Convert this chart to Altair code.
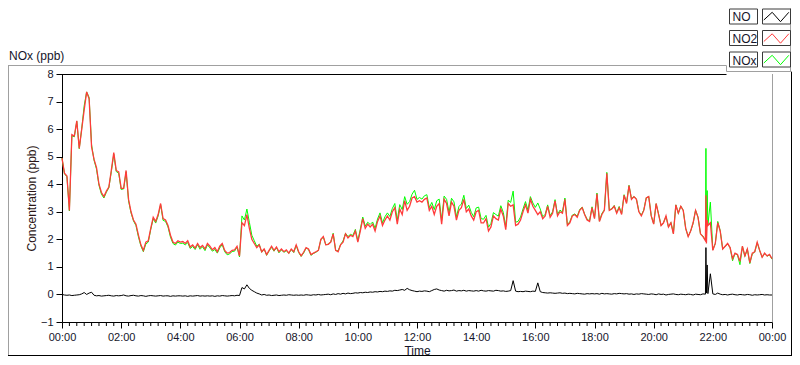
import altair as alt
import pandas as pd

SERIES = ["NO", "NO2", "NOx"]
SERIES_COLORS = ["#000000", "#ff3b3b", "#00ff00"]
X_TICKS = [0, 120, 240, 360, 480, 600, 720, 840, 960, 1080, 1200, 1320, 1440]
MINOR_TICKS = [t for t in range(0, 1441, 15) if t % 120 != 0]
Y_TICKS = [-1, 0, 1, 2, 3, 4, 5, 6, 7, 8]
TIME = list(range(0, 1441, 5))  # minutes since 00:00, 5-minute grid

NO2 = [
    4.95, 4.4, 4.3, 3.05, 5.8, 5.75, 6.3, 5.3, 6.0, 6.7, 7.35, 7.1,
    5.35, 4.9, 4.6, 4.0, 3.7, 3.55, 3.75, 3.9, 4.5, 5.15, 4.5, 4.45,
    3.85, 3.85, 4.5, 3.45, 3.0, 2.7, 2.55, 2.15, 1.8, 1.6, 1.9, 1.95,
    2.4, 2.8, 2.65, 2.9, 3.3, 2.75, 2.7, 2.5, 2.15, 1.9, 1.85, 1.95,
    1.9, 1.92, 1.85, 1.95, 1.72, 1.8, 1.68, 1.85, 1.7, 1.78, 1.65, 1.85,
    1.75, 1.62, 1.7, 1.55, 1.75, 1.85, 1.6, 1.5, 1.52, 1.6, 1.62, 1.75,
    1.4, 2.6, 2.5, 2.9, 2.4, 2.0, 1.85, 1.7, 1.8, 1.55, 1.65, 1.45,
    1.6, 1.75, 1.6, 1.72, 1.55, 1.65, 1.55, 1.62, 1.5, 1.65, 1.55, 1.8,
    1.55, 1.4, 1.53, 1.7, 1.65, 1.45, 1.5, 1.55, 1.6, 2.0, 2.1, 1.8,
    1.82, 1.9, 2.2, 1.6, 1.55, 1.8, 1.9, 2.2, 2.05, 2.15, 2.1, 2.3,
    1.9, 2.3, 2.75, 2.4, 2.55, 2.45, 2.55, 2.3, 2.65, 2.85, 2.5, 2.7,
    2.85, 2.7, 3.0, 3.15, 2.55, 3.1, 2.9, 3.4, 3.05, 3.2, 3.5, 3.55,
    3.35, 3.4, 3.35, 3.45, 3.5, 3.05, 3.2, 2.9, 3.2, 3.3, 2.55, 3.45,
    3.3, 2.85, 3.35, 3.2, 2.7, 3.05, 3.15, 3.45, 3.0, 3.1, 2.85, 2.7,
    3.0, 3.05, 2.6, 2.6, 2.75, 2.3, 2.45, 2.85, 2.75, 2.7, 3.1, 2.85,
    2.35, 3.3, 3.2, 3.25, 2.5, 2.55, 2.7, 3.0, 3.25, 2.95, 3.45, 3.2,
    3.05, 2.9, 3.0, 2.75, 2.85, 3.2, 2.8, 2.95, 3.4, 2.85, 3.0, 2.95,
    3.45, 2.5, 2.6, 2.85, 2.9, 2.8, 3.05, 3.15, 2.9, 2.7, 2.65, 3.15,
    2.75, 3.65, 2.65, 2.9, 3.05, 4.4, 3.05, 3.1, 3.2, 2.95, 3.15, 2.9,
    3.6, 3.3, 3.95, 3.45, 3.55, 3.45, 3.0, 2.85, 3.05, 3.5, 3.55, 2.85,
    2.55, 3.3, 2.9, 2.5, 2.6, 2.85, 2.45, 2.6, 2.2, 3.25, 2.95, 3.2,
    3.05, 2.4, 2.1, 2.3, 2.6, 3.05, 2.8, 2.2, 2.1, 1.95, 2.5, 2.6,
    1.6, 1.85, 2.6, 2.3, 1.65, 1.75, 1.85, 1.7, 1.3, 1.5, 1.45, 1.2,
    1.75, 1.4, 1.65, 1.15, 1.5, 1.55, 1.9, 1.6, 1.35, 1.5, 1.4, 1.45,
    1.3,
]

NO = [
    0.0, -0.02, -0.03, -0.02, -0.04, -0.03, -0.02, -0.01, 0.02, 0.07, 0.0, 0.05,
    0.08, -0.03, -0.05, -0.04, -0.06, -0.05, -0.04, -0.03, -0.05, -0.06, -0.04, -0.05,
    -0.04, -0.02, -0.05, -0.06, -0.04, -0.03, -0.05, -0.06, -0.04, -0.05, -0.07, -0.05,
    -0.04, -0.05, -0.06, -0.05, -0.04, -0.06, -0.05, -0.05, -0.07, -0.05, -0.06, -0.05,
    -0.05, -0.06, -0.05, -0.07, -0.05, -0.06, -0.05, -0.04, -0.06, -0.05, -0.06, -0.05,
    -0.06, -0.05, -0.07, -0.05, -0.06, -0.04, -0.05, -0.06, -0.05, -0.04, -0.05, -0.03,
    -0.04, 0.25, 0.2, 0.35, 0.22, 0.15, 0.1, 0.05, 0.02, -0.02, 0.0, -0.03,
    -0.02, -0.04, -0.03, -0.02, -0.04, -0.03, -0.02, -0.03, -0.01, -0.02, -0.03, -0.02,
    -0.03, -0.02, -0.03, -0.01, -0.02, -0.03, -0.01, -0.02, 0.0, -0.02, -0.01, 0.0,
    0.01, -0.01, 0.02, 0.0, 0.03, 0.01, 0.04, 0.02, 0.05, 0.03, 0.04, 0.06,
    0.05, 0.07, 0.06, 0.08, 0.07, 0.09, 0.08, 0.1, 0.09, 0.11, 0.1, 0.12,
    0.11, 0.13, 0.12, 0.15, 0.14, 0.16, 0.18, 0.15, 0.22, 0.17, 0.14, 0.12,
    0.1, 0.12, 0.11, 0.13, 0.12, 0.1, 0.14, 0.18, 0.2, 0.16, 0.14, 0.12,
    0.15, 0.13, 0.14, 0.16, 0.12, 0.14, 0.13, 0.15, 0.12, 0.14, 0.13, 0.12,
    0.14, 0.12, 0.15, 0.13, 0.12, 0.14, 0.13, 0.12, 0.15, 0.14, 0.12, 0.13,
    0.11, 0.12, 0.14, 0.5, 0.12, 0.1, 0.11, 0.1, 0.12, 0.11, 0.1, 0.12,
    0.11, 0.42, 0.1, 0.07, 0.06, 0.05, 0.06, 0.05, 0.04, 0.05, 0.06, 0.04,
    0.05, 0.03, 0.04, 0.03, 0.02, 0.04, 0.03, 0.02, 0.01, 0.03, 0.02, 0.03,
    0.02, 0.03, 0.01, 0.04, 0.02, 0.03, 0.02, 0.01, 0.03, 0.02, 0.04, 0.03,
    0.02, 0.03, 0.01, 0.02, 0.0, 0.02, 0.01, 0.03, 0.02, 0.01, 0.0, 0.02,
    0.01, -0.01, 0.02, 0.0, 0.01, -0.02, 0.0, 0.01, 0.02, 0.0, -0.01, 0.01,
    0.0, -0.01, 0.01, 0.0, -0.02, 0.01, 0.0, -0.01, 0.02, 0.01, 0.03, 0.75,
    0.02, 0.0, 0.05, 0.01, -0.01, 0.0, -0.02, 0.0, 0.01, -0.01, -0.02, 0.0,
    -0.01, -0.02, 0.0, -0.01, -0.03, -0.01, -0.02, -0.01, 0.0, -0.02, -0.01, -0.02,
    -0.02,
]

NOX = [
    4.95, 4.38, 4.27, 3.03, 5.76, 5.72, 6.28, 5.29, 6.02, 6.85, 7.35, 7.15,
    5.43, 4.87, 4.55, 3.96, 3.64, 3.5, 3.71, 3.87, 4.45, 5.09, 4.46, 4.4,
    3.81, 3.83, 4.45, 3.39, 2.96, 2.67, 2.5, 2.09, 1.76, 1.55, 1.83, 1.9,
    2.36, 2.75, 2.59, 2.85, 3.26, 2.69, 2.65, 2.45, 2.08, 1.85, 1.79, 1.9,
    1.85, 1.86, 1.8, 1.88, 1.67, 1.74, 1.63, 1.81, 1.64, 1.73, 1.59, 1.8,
    1.69, 1.57, 1.63, 1.5, 1.69, 1.81, 1.55, 1.44, 1.47, 1.56, 1.57, 1.72,
    1.36, 2.85, 2.7, 3.1, 2.62, 2.15, 1.95, 1.75, 1.82, 1.53, 1.65, 1.42,
    1.58, 1.71, 1.57, 1.7, 1.51, 1.62, 1.53, 1.59, 1.49, 1.63, 1.52, 1.78,
    1.52, 1.38, 1.5, 1.69, 1.63, 1.42, 1.49, 1.53, 1.6, 1.98, 2.09, 1.8,
    1.83, 1.89, 2.22, 1.6, 1.58, 1.81, 1.94, 2.22, 2.1, 2.18, 2.14, 2.36,
    1.95, 2.37, 2.81, 2.48, 2.62, 2.54, 2.63, 2.4, 2.74, 2.96, 2.6, 2.82,
    2.96, 2.83, 3.12, 3.3, 2.69, 3.26, 3.08, 3.55, 3.27, 3.37, 3.64, 3.78,
    3.45, 3.52, 3.46, 3.58, 3.62, 3.15, 3.34, 3.08, 3.4, 3.46, 2.69, 3.57,
    3.45, 2.98, 3.49, 3.36, 2.82, 3.19, 3.28, 3.6, 3.12, 3.24, 2.98, 2.82,
    3.14, 3.17, 2.75, 2.73, 2.87, 2.44, 2.58, 2.97, 2.9, 2.84, 3.22, 2.98,
    2.46, 3.42, 3.34, 3.75, 2.62, 2.65, 2.81, 3.1, 3.37, 3.06, 3.55, 3.32,
    3.16, 3.32, 3.1, 2.82, 2.91, 3.25, 2.86, 3.0, 3.44, 2.9, 3.06, 2.99,
    3.5, 2.53, 2.64, 2.88, 2.92, 2.84, 3.08, 3.17, 2.91, 2.73, 2.67, 3.18,
    2.77, 3.68, 2.66, 2.94, 3.07, 4.43, 3.07, 3.11, 3.23, 2.97, 3.19, 2.93,
    3.62, 3.33, 3.96, 3.47, 3.55, 3.47, 3.01, 2.88, 3.07, 3.51, 3.55, 2.87,
    2.56, 3.29, 2.92, 2.5, 2.61, 2.83, 2.45, 2.61, 2.22, 3.25, 2.94, 3.21,
    3.05, 2.39, 2.11, 2.3, 2.58, 3.06, 2.8, 2.19, 2.12, 1.96, 2.53, 3.35,
    1.62, 1.85, 2.65, 2.31, 1.64, 1.75, 1.83, 1.7, 1.22, 1.49, 1.43, 1.08,
    1.74, 1.38, 1.65, 1.12, 1.47, 1.54, 1.88, 1.59, 1.35, 1.48, 1.39, 1.43,
    1.28,
]

# short-lived spikes around 21:46-21:49 (minutes since 00:00)
EXTRA_T = [1306, 1307, 1308.5]
NO_EXTRA = [1.7, 0.05, 1.07]
NO2_EXTRA = [3.6, 1.85, 2.7]
NOX_EXTRA = [5.3, 1.9, 3.77]

assert len(NO2) == len(TIME) and len(NO) == len(TIME) and len(NOX) == len(TIME)

rows = []
for name, vals, extra in [("NO", NO, NO_EXTRA), ("NO2", NO2, NO2_EXTRA), ("NOx", NOX, NOX_EXTRA)]:
    for t, v in zip(TIME, vals):
        rows.append({"t": t, "v": v, "series": name})
    for t, v in zip(EXTRA_T, extra):
        rows.append({"t": t, "v": v, "series": name})
df = pd.DataFrame(rows).sort_values(["series", "t"]).reset_index(drop=True)

FONT = "Liberation Sans"
TXT = "#15152a"
W, H = 710, 248
BOTTOM = 34

x_axis = alt.Axis(
    values=X_TICKS,
    labelExpr="(datum.value/60 % 24 < 10 ? '0' : '') + (datum.value/60 % 24) + ':00'",
    title="Time", titleFont=FONT, titleFontSize=12, titleFontWeight="normal", titleColor=TXT,
    titleX=W / 2, titleY=28, titleBaseline="middle",
    labelFont=FONT, labelFontSize=11, labelColor=TXT, labelPadding=3,
    tickSize=6, tickColor="#000", domainColor="#000", grid=False, labelFlush=False,
)
y_axis = alt.Axis(
    values=Y_TICKS,
    title="Concentration (ppb)", titleFont=FONT, titleFontSize=12, titleFontWeight="normal",
    titleColor="#2a1515", titleX=-30.5, titleY=H / 2, titleBaseline="middle", titleAngle=270,
    labelFont=FONT, labelFontSize=11, labelColor=TXT, labelPadding=3,
    tickSize=6, tickColor="#000", domainColor="#000", grid=False,
)
x_enc = alt.X("t:Q", scale=alt.Scale(domain=[0, 1440], nice=False, zero=False), axis=x_axis)
y_enc = alt.Y("v:Q", scale=alt.Scale(domain=[-1, 8], nice=False, zero=False), axis=y_axis)

legend = alt.Legend(
    orient="none", legendX=701.5, legendY=-68.25, title=None,
    symbolType="M-1,0.3L-0.42,-0.42L0.25,0.42L1,-0.38",
    symbolSize=576, symbolStrokeWidth=1, symbolFillColor="transparent", symbolOpacity=0,
    symbolOffset=0, labelOffset=alt.ExprRef("-56"),
    labelFont=FONT, labelFontSize=12, labelColor=TXT, labelAlign="left", labelBaseline="middle",
    clipHeight=21.5, rowPadding=0, padding=0, zindex=2,
)
color_enc = alt.Color("series:N", scale=alt.Scale(domain=SERIES, range=SERIES_COLORS), legend=legend)
STROKES = {"NO": 1.0, "NOx": 1.0, "NO2": 1.3}


def series_layer(name):
    return (
        alt.Chart(df)
        .transform_filter(alt.datum.series == name)
        .mark_line(strokeWidth=STROKES[name])
        .encode(x=x_enc, y=y_enc, color=color_enc, order="t:Q")
    )


minor = (
    alt.Chart(pd.DataFrame({"t": MINOR_TICKS}))
    .mark_rule(color="#000", strokeWidth=1)
    .encode(x=x_enc, y=alt.value(H), y2=alt.value(H + 4))
)

one = pd.DataFrame({"k": [0]})


def seg(x1, x2, y1, y2, color):
    return alt.Chart(one).mark_rule(color=color, strokeWidth=1).encode(
        x=alt.value(x1), x2=alt.value(x2), y=alt.value(y1), y2=alt.value(y2)
    )


def box(x1, x2, y1, y2):
    return alt.Chart(one).mark_rect(fill="transparent", stroke="#3a3a3a", strokeWidth=1).encode(
        x=alt.value(x1), x2=alt.value(x2), y=alt.value(y1), y2=alt.value(y2)
    )


GRAY = "#a0a0a0"
YB = H + BOTTOM - 0.5
frame = [
    seg(-54, 664.5, -8.5, -8.5, GRAY),      # outer top
    seg(-53.5, -53.5, -8.5, YB, GRAY),      # outer left
    seg(-54, 730, YB, YB, "#000"),          # outer bottom
    seg(729.5, 729.5, -2.5, YB, "#000"),    # outer right
    seg(664.5, 664.5, -8.5, -2.5, GRAY),    # legend panel left
    seg(664.5, 730, -2.5, -2.5, GRAY),      # legend panel bottom
    seg(728.5, 728.5, -66, -2.5, GRAY),     # legend panel right
    seg(0, 664.5, 0.5, 0.5, "#000"),        # plot top
    seg(W + 0.5, W + 0.5, 0, H, GRAY),      # plot right
]
ROW_C = [-57.5, -36, -14.5]
boxes = []
glyphs = []
GX = [701.8, 710.2, 718.5, 726.8]
GY = [3.5, -4.2, 5.2, -4.2]
for c, col in zip(ROW_C, SERIES_COLORS):
    boxes.append(box(667.5, 695.5, c - 7.5, c + 7.5))
    boxes.append(box(700.5, 728.5, c - 7.5, c + 7.5))
    for k in range(3):
        glyphs.append(seg(GX[k], GX[k + 1], c + GY[k], c + GY[k + 1], col))

title = (
    alt.Chart(pd.DataFrame({"label": ["NOx (ppb)"]}))
    .mark_text(align="left", baseline="alphabetic", font=FONT, fontSize=12, color=TXT)
    .encode(text="label:N", x=alt.value(-53), y=alt.value(-14.5))
)

chart = (
    alt.layer(
        *frame, *boxes, *glyphs, minor,
        series_layer("NO"), series_layer("NOx"), series_layer("NO2"),
        title,
    )
    .properties(
        width=W, height=H,
        autosize=alt.AutoSizeParams(type="none"),
        padding={"left": 54, "top": 66, "right": 20, "bottom": BOTTOM},
        background="white",
    )
    .configure_view(strokeWidth=0)
)

chart.save("out.html", embed_options={"renderer": "svg", "actions": False})
